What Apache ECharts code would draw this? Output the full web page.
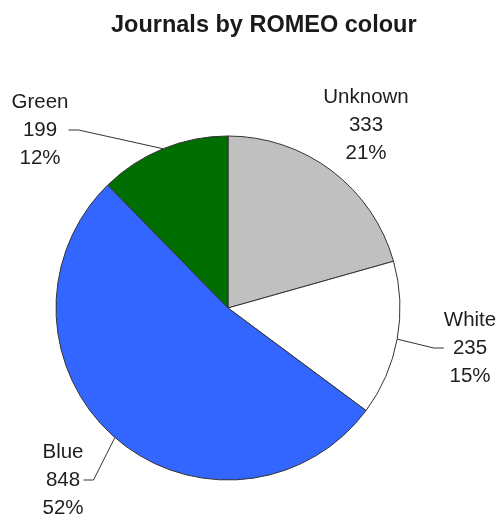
<!DOCTYPE html>
<html>
<head>
<meta charset="utf-8">
<script src="https://cdn.jsdelivr.net/npm/echarts@6/dist/echarts.min.js"></script>
<style>
html,body{margin:0;padding:0;background:#fff;}
#c{width:502px;height:523px;}
</style>
</head>
<body>
<div id="c"></div>
<script>
var titleText = 'Journals by ROMEO colour';
var categories = ['Unknown', 'White', 'Blue', 'Green'];
var values = [333, 235, 848, 199];
var percentLabels = ['21%', '15%', '52%', '12%'];
var sliceColors = ['#c0c0c0', '#ffffff', '#3366ff', '#006e00'];

// label block centres (layout only)
var labelPos = [[366, 125], [470, 348], [63, 480], [40, 130]];
var showLine = [false, true, true, true];

var chart = echarts.init(document.getElementById('c'), null, {renderer: 'canvas'});
chart.setOption({
  animation: false,
  title: {
    text: titleText,
    left: 106,
    top: 9,
    textStyle: {fontFamily: 'Liberation Sans, Arial', fontSize: 23.5, fontWeight: 'bold', color: '#1a1a1a'}
  },
  series: [{
    type: 'pie',
    center: [228, 308],
    radius: 172,
    startAngle: 90,
    clockwise: true,
    avoidLabelOverlap: false,
    data: categories.map(function (c, i) {
      return {
        name: c, value: values[i],
        itemStyle: {color: sliceColors[i]},
        labelLine: {show: showLine[i]}
      };
    }),
    itemStyle: {borderColor: '#333', borderWidth: 1},
    label: {
      show: true,
      position: 'outside',
      formatter: function (p) { return p.name + '\n' + p.value + '\n' + percentLabels[p.dataIndex]; },
      fontFamily: 'Liberation Sans, Arial',
      fontSize: 20.5,
      lineHeight: 28,
      color: '#1e1e1e',
      align: 'center'
    },
    labelLine: {lineStyle: {color: '#333', width: 1}, length: 10, length2: 10},
    labelLayout: function (p) {
      var pos = labelPos[p.dataIndex];
      return {x: pos[0], y: pos[1], align: 'center', verticalAlign: 'middle', moveOverlap: false};
    },
    emphasis: {disabled: true}
  }]
});
</script>
</body>
</html>
